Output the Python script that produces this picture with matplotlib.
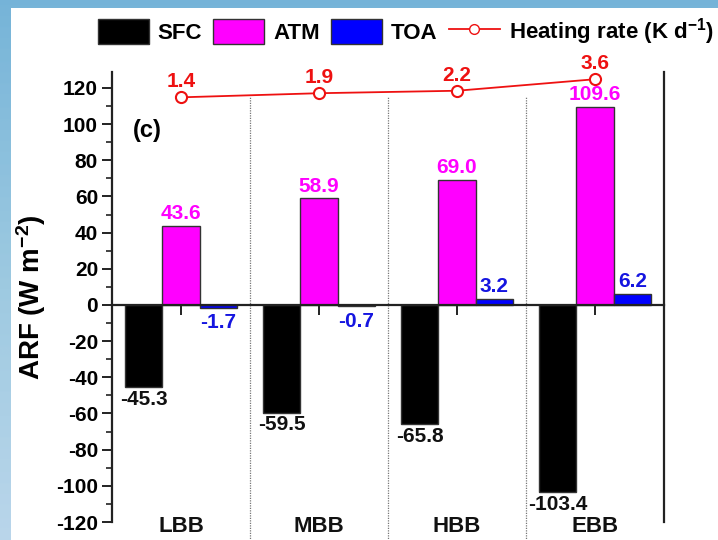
import numpy as np
import matplotlib
matplotlib.use("Agg")
import matplotlib.pyplot as plt
import matplotlib.transforms as mtransforms
from matplotlib.patches import Rectangle, Patch
from matplotlib.lines import Line2D
from matplotlib.ticker import MultipleLocator

plt.rcParams['font.family'] = ['Liberation Sans', 'DejaVu Sans']
plt.rcParams['font.weight'] = 'bold'
plt.rcParams['axes.unicode_minus'] = False
plt.rcParams['mathtext.fontset'] = 'custom'
plt.rcParams['mathtext.rm'] = 'Liberation Sans:bold'
plt.rcParams['mathtext.bf'] = 'Liberation Sans:bold'
plt.rcParams['mathtext.it'] = 'Liberation Sans:bold'

categories = ["LBB", "MBB", "HBB", "EBB"]
sfc = [-45.3, -59.5, -65.8, -103.4]
atm = [43.6, 58.9, 69.0, 109.6]
toa = [-1.7, -0.7, 3.2, 6.2]
heating = [1.4, 1.9, 2.2, 3.6]

W, H = 718, 540
fig = plt.figure(figsize=(W / 100, H / 100), dpi=100)

# sky-like background
bg = fig.add_axes([0, 0, 1, 1], zorder=-10)
yy = np.linspace(0, 1, 200)[:, None]
xx = np.linspace(0, 1, 200)[None, :]
grad = 0.7 + 0.35 * yy + 0.0 * xx
bg.imshow(grad, cmap='Blues_r', vmin=-0.3, vmax=1.6, aspect='auto', extent=[0, 1, 0, 1])
bg.add_patch(Rectangle((11 / W, 0), 1 - 11 / W, 1 - 8 / H, facecolor='white', edgecolor='none'))
bg.set_xlim(0, 1); bg.set_ylim(0, 1)
bg.axis('off')

left, right = 112 / W, 664 / W
bottom, top = (H - 522) / H, (H - 72) / H
ax = fig.add_axes([left, bottom, right - left, top - bottom])
ax.set_facecolor('none')

x = np.arange(1, len(categories) + 1)
w = 0.27
ax.bar(x - w, sfc, w, color='black', edgecolor='#333333', linewidth=1, zorder=3)
ax.bar(x, atm, w, color='#ff00ff', edgecolor='#333333', linewidth=1, zorder=3)
ax.bar(x + w, toa, w, color='#0000ff', edgecolor='#333333', linewidth=1, zorder=3)

ax.set_xlim(0.5, 4.5)
ax.set_ylim(-120, 128.8)

fs = 15
for i in range(len(categories)):
    ax.text(x[i] - w, sfc[i] - 1.5, f"{sfc[i]:.1f}", ha='center', va='top', fontsize=fs,
            fontweight='bold', color='#111111', zorder=5)
    ax.text(x[i], atm[i] + 1.5, f"{atm[i]:.1f}", ha='center', va='bottom', fontsize=fs,
            fontweight='bold', color='#ff00ff', zorder=5)
    if toa[i] < 0:
        ax.text(x[i] + w, toa[i] - 3.0, f"{toa[i]:.1f}", ha='center', va='top', fontsize=fs,
                fontweight='bold', color='#1515e0', zorder=5)
    else:
        ax.text(x[i] + w, toa[i] + 1.5, f"{toa[i]:.1f}", ha='center', va='bottom', fontsize=fs,
                fontweight='bold', color='#1515e0', zorder=5)
    ax.text(x[i], -122.3, categories[i], ha='center', va='center', fontsize=16,
            fontweight='bold', color='#111111', clip_on=False)

# dotted dividers
ax.vlines([1.5, 2.5, 3.5], -131, 115, colors='#777777', linestyles=(0, (1, 1)),
          linewidth=0.9, clip_on=False, zorder=1)

# spines
ax.spines['top'].set_visible(False)
ax.spines['bottom'].set_position(('data', 0))
for s in ['left', 'right', 'bottom']:
    ax.spines[s].set_linewidth(1.6)
    ax.spines[s].set_color('#222222')
    ax.spines[s].set_zorder(4)

ax.set_xticks(x)
ax.set_xticklabels([])
ax.tick_params(axis='x', direction='out', length=7, width=1.4, color='#222222')
ax.yaxis.set_major_locator(MultipleLocator(20))
ax.yaxis.set_minor_locator(MultipleLocator(10))
ax.tick_params(axis='y', which='major', direction='out', length=7, width=1.4,
               labelsize=15, color='#222222', pad=3)
ax.tick_params(axis='y', which='minor', direction='out', length=4, width=1.2, color='#222222')
for lab in ax.get_yticklabels():
    lab.set_fontweight('bold')
ax.set_ylabel(r"ARF (W m$^{-2}$)", fontsize=20, fontweight='bold', labelpad=6)

ax.text(0.037, 96.5, "(c)",
        transform=mtransforms.blended_transform_factory(ax.transAxes, ax.transData),
        fontsize=17, fontweight='bold', va='center', ha='left')

# heating rate on twin axis
ax2 = ax.twinx()
ax2.set_ylim(-50.25, 4.48)
ax2.plot(x, heating, color='#ee1111', linewidth=1.3, marker='o', markersize=8,
         markerfacecolor='white', markeredgecolor='#ee1111', markeredgewidth=1.5, zorder=6)
for i in range(len(categories)):
    ax2.text(x[i], heating[i] + 0.75, f"{heating[i]:.1f}", ha='center', va='bottom',
             fontsize=fs, fontweight='bold', color='#ee1111')
ax2.set_yticks([])
for s in ax2.spines.values():
    s.set_visible(False)

# legend
handles = [Patch(facecolor='black', edgecolor='#333333'),
           Patch(facecolor='#ff00ff', edgecolor='#333333'),
           Patch(facecolor='#0000ff', edgecolor='#333333'),
           Line2D([], [], color='#ee1111', marker='o', markerfacecolor='white',
                  markeredgecolor='#ee1111', markersize=7, linewidth=1.3)]
labels = ["SFC", "ATM", "TOA", r"Heating rate (K d$^{-1}$)"]
leg = fig.legend(handles, labels, loc='center', bbox_to_anchor=(0.565, 1 - 32 / H), ncol=4,
                 frameon=False, fontsize=16, handlelength=2.3, handleheight=1.3,
                 columnspacing=0.5, handletextpad=0.4)
for t in leg.get_texts():
    t.set_fontweight('bold')

fig.savefig("out.png", dpi=100)
